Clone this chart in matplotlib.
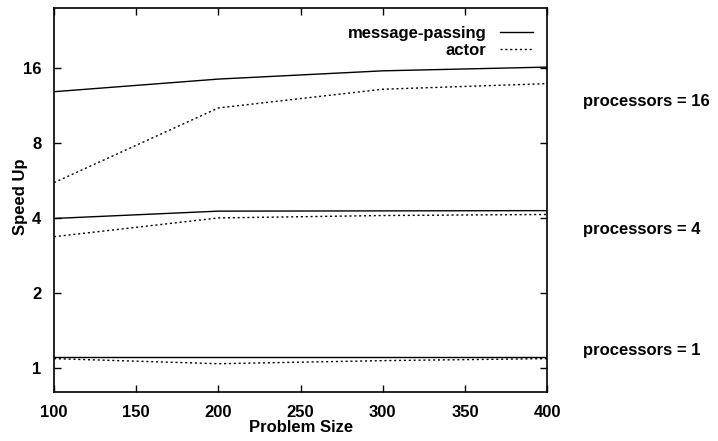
import matplotlib
matplotlib.use("Agg")
import matplotlib.pyplot as plt
from matplotlib.ticker import FixedLocator, FixedFormatter, NullLocator

plt.rcParams['font.family'] = ['Liberation Sans', 'DejaVu Sans']
plt.rcParams['font.weight'] = 'bold'

# problem sizes on the x axis
sizes = [100, 200, 300, 400]

# speed up
msg_p16 = [12.9, 14.5, 15.65, 16.2]
actor_p16 = [5.56, 11.1, 13.2, 13.9]
msg_p4 = [3.99, 4.27, 4.28, 4.29]
actor_p4 = [3.37, 4.01, 4.10, 4.14]
msg_p1 = [1.107, 1.107, 1.107, 1.107]
actor_p1 = [1.09, 1.04, 1.07, 1.09]

procs_labels = ["processors = 16", "processors = 4", "processors = 1"]
procs_y = [11.76, 3.59, 1.18]

y_ticks = [1, 2, 4, 8, 16]
x_ticks = [100, 150, 200, 250, 300, 350, 400]

fig = plt.figure(figsize=(7.18, 4.41), dpi=100)
ax = fig.add_axes([0.0752, 0.111, 0.687, 0.870])

dots = (0, (1.5, 2.0))
ax.plot(sizes, msg_p16, color='black', lw=1.0, label='message-passing')
ax.plot(sizes, actor_p16, color='black', lw=1.0, linestyle=dots, label='actor')
ax.plot(sizes, msg_p4, color='black', lw=1.0)
ax.plot(sizes, actor_p4, color='black', lw=1.0, linestyle=dots)
ax.plot(sizes, msg_p1, color='black', lw=1.0)
ax.plot(sizes, actor_p1, color='black', lw=1.0, linestyle=dots)

ax.set_yscale('log', base=2)
ax.set_ylim(0.80, 27.9)
ax.set_xlim(100, 400)
ax.yaxis.set_major_locator(FixedLocator(y_ticks))
ax.yaxis.set_major_formatter(FixedFormatter([str(t) for t in y_ticks]))
ax.yaxis.set_minor_locator(NullLocator())
ax.set_xticks(x_ticks)

ax.tick_params(direction='in', top=True, right=True, length=5, width=1,
               labelsize=12)
ax.tick_params(axis='x', pad=9)
ax.tick_params(axis='y', pad=9)
for lab in ax.get_xticklabels() + ax.get_yticklabels():
    lab.set_fontweight('bold')
for sp in ax.spines.values():
    sp.set_linewidth(1.2)

ax.set_xlabel('Problem Size', fontsize=12, fontweight='bold', labelpad=0)
ax.set_ylabel('Speed Up', fontsize=12, fontweight='bold')
ax.yaxis.set_label_coords(-0.052, 0.51)

for txt, yv in zip(procs_labels, procs_y):
    ax.text(422, yv, txt, fontsize=12, fontweight='bold', va='center',
            ha='left', clip_on=False)

leg = ax.legend(loc='upper right', bbox_to_anchor=(0.995, 0.985), frameon=False,
                markerfirst=False, fontsize=12, handlelength=2.0,
                handletextpad=0.8, labelspacing=0.12, borderaxespad=0.3)
for t in leg.get_texts():
    t.set_fontweight('bold')
    t.set_ha('right')
leg._legend_box.align = 'right'

fig.savefig('out.png', dpi=100)
